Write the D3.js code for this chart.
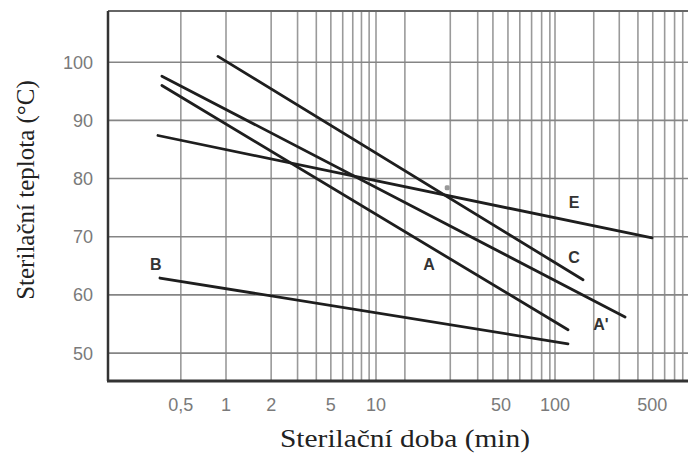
<!DOCTYPE html>
<html>
<head>
<meta charset="utf-8">
<script src="https://cdn.jsdelivr.net/npm/d3@7"></script>
<style>
  body { margin: 0; background: #fff; }
  .tick-label { font-family: "Liberation Sans", Arial, sans-serif; font-size: 18px; fill: #7a7a7a; }
  .curve-label { font-family: "Liberation Sans", Arial, sans-serif; font-size: 16px; font-weight: bold; fill: #333; }
  .axis-title { font-family: "Liberation Serif", "Times New Roman", serif; font-size: 25px; fill: #222; }
</style>
</head>
<body>
<div id="chart"></div>
<script>
// Tick labels and grid values
var xTickValues = [0.5, 1, 2, 5, 10, 50, 100, 500];
var xTickLabels = ["0,5", "1", "2", "5", "10", "50", "100", "500"];
var xGridValues = [0.5, 1, 2, 3, 4, 5, 6, 7, 8, 9, 10,
  14.5, 26, 37, 45, 54.6, 63.6, 74, 84.2, 93.6, 100,
  190, 290, 395, 505, 615, 725, 830];
var yTickValues = [50, 60, 70, 80, 90, 100];

// Curves: [time (min), temperature (°C)]
var curveC = [[0.884, 101.0], [159, 62.6]];
var curveA2 = [[0.374, 97.6], [319, 56.2]];
var curveA = [[0.374, 96.0], [124, 54.0]];
var curveE = [[0.352, 87.4], [499, 69.8]];
var curveB = [[0.363, 62.9], [124, 51.6]];
var curves = [curveC, curveA2, curveA, curveE, curveB];

// Curve labels
var labelNames = ["E", "C", "A", "A'", "B"];
var labelPoints = [[137, 75.9], [137, 66.4], [19.8, 65.3], [214, 55.0], [0.341, 65.3]];

// small grey mark near the C / E crossing
var markPoint = [25, 78.4];

// SVG area
var svgWidth = 688;
var svgHeight = 454;

var svg = d3.select("#chart")
  .append("svg")
  .attr("width", svgWidth)
  .attr("height", svgHeight);

var plotLeft = 108;
var plotTop = 11;
var plotBottom = 381;
var plotRight = 688;

// log scale of the graph paper (the decades are not all the same width)
var xScale = d3.scaleLog()
  .domain([0.1635, 1, 10, 100, 1000])
  .range([plotLeft, 226, 376, 555, 694]);

var yScale = d3.scaleLinear()
  .domain([45.2, 108.8])
  .range([plotBottom, plotTop]);

// vertical grid
svg.append("g")
  .selectAll("line")
  .data(xGridValues)
  .enter()
  .append("line")
  .attr("x1", d => xScale(d))
  .attr("x2", d => xScale(d))
  .attr("y1", plotTop)
  .attr("y2", plotBottom)
  .attr("stroke", "#9a9a9a")
  .attr("stroke-width", 1.6);

// horizontal grid
svg.append("g")
  .selectAll("line")
  .data(yTickValues)
  .enter()
  .append("line")
  .attr("x1", plotLeft)
  .attr("x2", plotRight)
  .attr("y1", d => yScale(d))
  .attr("y2", d => yScale(d))
  .attr("stroke", "#858585")
  .attr("stroke-width", 1.6);

// frame
svg.append("line")
  .attr("x1", plotLeft).attr("x2", plotRight)
  .attr("y1", plotTop).attr("y2", plotTop)
  .attr("stroke", "#666").attr("stroke-width", 2);
svg.append("line")
  .attr("x1", plotLeft).attr("x2", plotLeft)
  .attr("y1", plotTop).attr("y2", plotBottom)
  .attr("stroke", "#333").attr("stroke-width", 2.5);
svg.append("line")
  .attr("x1", plotLeft - 1).attr("x2", plotRight)
  .attr("y1", plotBottom).attr("y2", plotBottom)
  .attr("stroke", "#333").attr("stroke-width", 3);

// y tick labels
svg.append("g")
  .selectAll("text")
  .data(yTickValues)
  .enter()
  .append("text")
  .attr("class", "tick-label")
  .attr("x", 93)
  .attr("y", d => yScale(d))
  .attr("dy", "0.36em")
  .attr("text-anchor", "end")
  .text(d => d);

// x tick labels
svg.append("g")
  .selectAll("text")
  .data(xTickValues)
  .enter()
  .append("text")
  .attr("class", "tick-label")
  .attr("x", d => xScale(d))
  .attr("y", 411)
  .attr("text-anchor", "middle")
  .text((d, i) => xTickLabels[i]);

// curves
var drawLine = d3.line()
  .x(d => xScale(d[0]))
  .y(d => yScale(d[1]));

svg.append("g")
  .selectAll("path")
  .data(curves)
  .enter()
  .append("path")
  .attr("d", d => drawLine(d))
  .attr("fill", "none")
  .attr("stroke", "#1e1e1e")
  .attr("stroke-width", 2.8)
  .attr("stroke-linecap", "round");

svg.append("rect")
  .attr("x", xScale(markPoint[0]) - 2.5)
  .attr("y", yScale(markPoint[1]) - 2.5)
  .attr("width", 5)
  .attr("height", 5)
  .attr("rx", 1.5)
  .attr("fill", "#999");

// curve labels
svg.append("g")
  .selectAll("text")
  .data(labelPoints)
  .enter()
  .append("text")
  .attr("class", "curve-label")
  .attr("x", d => xScale(d[0]))
  .attr("y", d => yScale(d[1]))
  .attr("dy", "0.36em")
  .attr("text-anchor", "middle")
  .text((d, i) => labelNames[i]);

// axis titles
svg.append("text")
  .attr("class", "axis-title")
  .attr("x", 405)
  .attr("y", 447)
  .attr("text-anchor", "middle")
  .attr("textLength", 250)
  .attr("lengthAdjust", "spacingAndGlyphs")
  .style("font-size", "26px")
  .text("Sterilační doba (min)");

svg.append("text")
  .attr("class", "axis-title")
  .attr("transform", "translate(34, 190) rotate(-90)")
  .attr("text-anchor", "middle")
  .text("Sterilační teplota (°C)");
</script>
</body>
</html>
